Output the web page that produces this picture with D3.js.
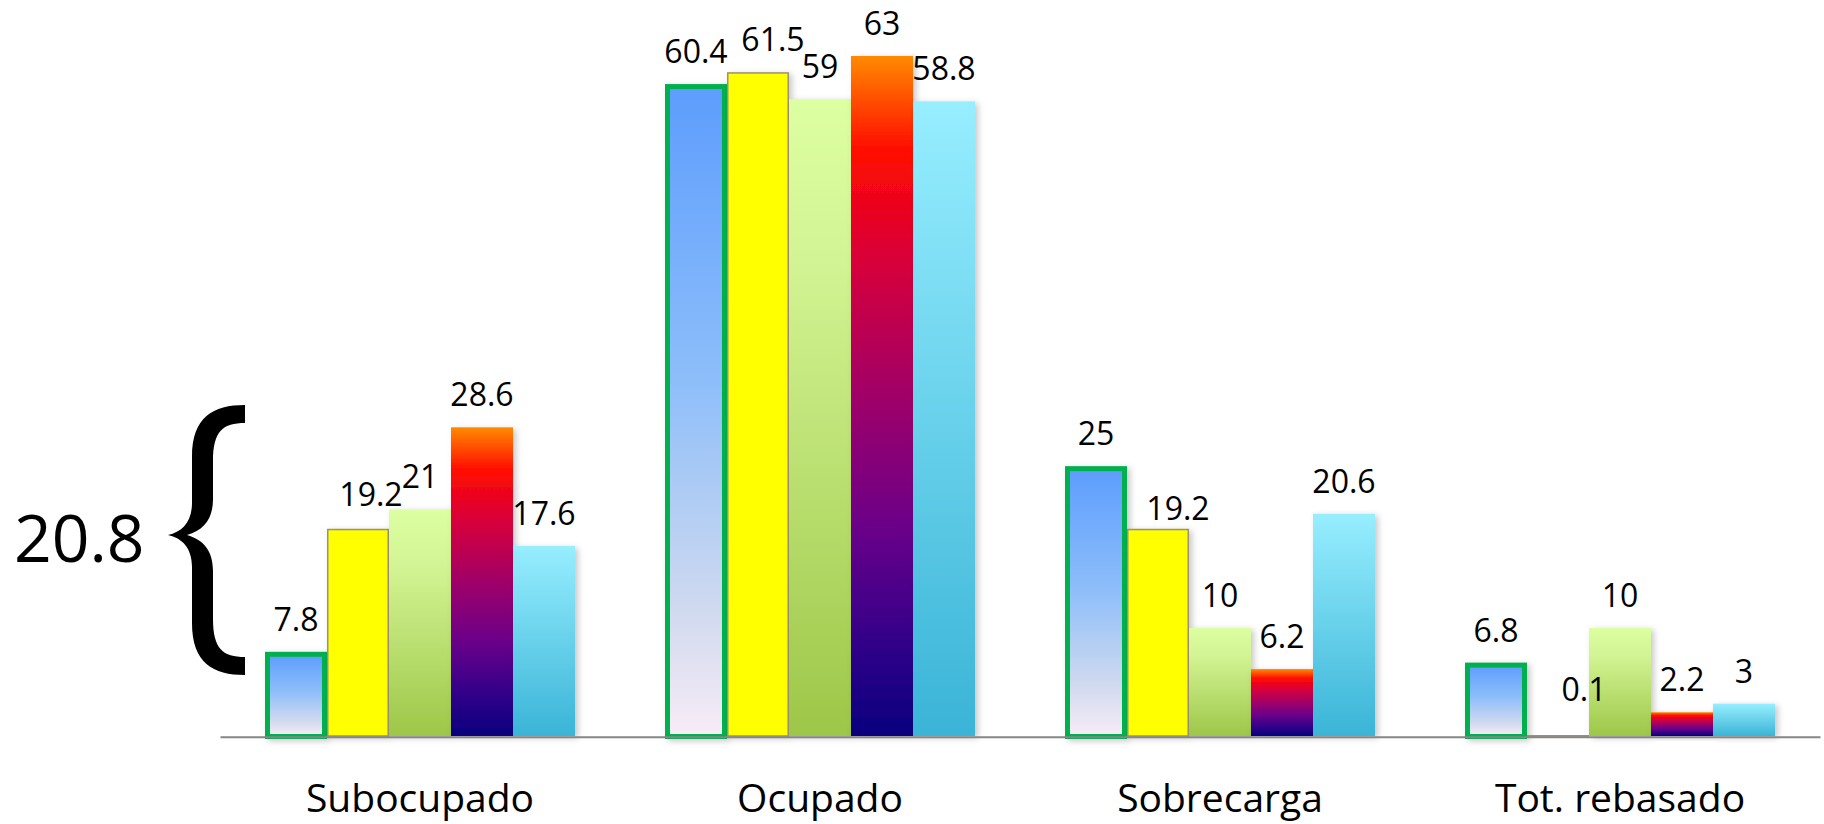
<!DOCTYPE html>
<html>
<head>
<meta charset="utf-8">
<script src="https://cdn.jsdelivr.net/npm/d3@7"></script>
<style>
  html, body { margin: 0; padding: 0; background: #ffffff; }
  svg { display: block; }
</style>
</head>
<body>
<script>
// Categories along the x axis
const categories = ["Subocupado", "Ocupado", "Sobrecarga", "Tot. rebasado"];

// One array per series, in category order
const serieA = [7.8, 60.4, 25, 6.8];
const serieB = [19.2, 61.5, 19.2, 0.1];
const serieC = [21, 59, 10, 10];
const serieD = [28.6, 63, 6.2, 2.2];
const serieE = [17.6, 58.8, 20.6, 3];

const seriesKeys = ["A", "B", "C", "D", "E"];
const seriesValues = [serieA, serieB, serieC, serieD, serieE];

// Side annotation
const braceLabel = "20.8";

// Nudges for the labels of series B, which sit off-centre
const labelNudgeB = [[13, -2], [15, 0], [20, 12], [26, -13]];

const W = 1824, H = 824;
const FONT = "'Open Sans', 'Noto Sans', sans-serif";

const svg = d3.select("body").append("svg")
  .attr("width", W).attr("height", H);

const defs = svg.append("defs");

function gradient(id, stops) {
  const g = defs.append("linearGradient").attr("id", id)
    .attr("x1", 0).attr("y1", 0).attr("x2", 0).attr("y2", 1);
  stops.forEach(([o, c]) => g.append("stop").attr("offset", o).attr("stop-color", c));
}
gradient("gA", [[0, "#5d9dfd"], [0.45, "#8dbefa"], [0.8, "#cfd9ef"], [1, "#f8ecf6"]]);
gradient("gC", [[0, "#dcffa1"], [0.25, "#d3f494"], [1, "#9dc748"]]);
gradient("gD", [[0, "#ff8a00"], [0.14, "#ff0a00"], [0.3, "#d8003a"], [0.5, "#a00068"],
                [0.7, "#68008a"], [0.88, "#2c0088"], [1, "#0a007e"]]);
gradient("gE", [[0, "#97eeff"], [1, "#3ab4d7"]]);

const shadow = defs.append("filter").attr("id", "shadow")
  .attr("x", "-20%").attr("y", "-20%").attr("width", "140%").attr("height", "140%");
shadow.append("feDropShadow")
  .attr("dx", 3).attr("dy", 2).attr("stdDeviation", 3)
  .attr("flood-color", "#000").attr("flood-opacity", 0.22);

const fills = { A: "url(#gA)", B: "#ffff00", C: "url(#gC)", D: "url(#gD)", E: "url(#gE)" };

// Scales
const x0 = d3.scaleBand().domain(categories).range([220, 1820])
  .paddingInner(0.225).paddingOuter(0.1125);
const x1 = d3.scaleBand().domain(seriesKeys).range([0, x0.bandwidth()]);
const y = d3.scaleLinear().domain([0, 63]).range([736, 56]);
const bw = x1.bandwidth();

// Bars
const rows = categories.map((c, i) => ({
  cat: c, i,
  items: seriesKeys.map((k, s) => ({ key: k, value: seriesValues[s][i], i }))
}));

const groups = svg.append("g").selectAll("g.cat")
  .data(rows).join("g")
  .attr("class", "cat")
  .attr("transform", d => `translate(${x0(d.cat)},0)`);

groups.selectAll("rect")
  .data(d => d.items).join("rect")
  .attr("filter", "url(#shadow)")
  .attr("fill", d => fills[d.key])
  .each(function (d) {
    const r = d3.select(this);
    const top = y(d.value), base = y(0);
    if (d.key === "A") {
      r.attr("x", x1(d.key) + 2.5).attr("width", bw - 5)
        .attr("y", top + 2.5).attr("height", base + 0.5 - top - 2.5)
        .attr("stroke", "#00b050").attr("stroke-width", 5);
    } else if (d.key === "B") {
      r.attr("x", x1(d.key) + 0.75).attr("width", bw - 1.5)
        .attr("y", top + 0.75).attr("height", Math.max(base - top - 0.75, 0.5))
        .attr("stroke", "#9c9272").attr("stroke-width", 1.5);
    } else {
      r.attr("x", x1(d.key)).attr("width", bw)
        .attr("y", top).attr("height", base - top);
    }
  });

// Value labels
groups.selectAll("text.val")
  .data(d => d.items).join("text")
  .attr("class", "val")
  .attr("text-anchor", "middle")
  .attr("font-family", FONT)
  .attr("font-size", 32)
  .attr("fill", "#000")
  .attr("x", d => x1(d.key) + bw / 2 + (d.key === "B" ? labelNudgeB[d.i][0] : 0))
  .attr("y", d => y(d.value) - 21 + (d.key === "B" ? labelNudgeB[d.i][1] : 0))
  .text(d => d.value);

// Category axis
const axis = svg.append("g")
  .attr("transform", `translate(0,${y(0) + 0.7})`)
  .call(d3.axisBottom(x0).tickSize(0).tickSizeOuter(0));
axis.select(".domain").attr("stroke", "#868686").attr("stroke-width", 2);
axis.selectAll(".tick text")
  .attr("font-family", FONT)
  .attr("font-size", 39)
  .attr("fill", "#000")
  .attr("dy", null)
  .attr("y", 75);

// Brace annotation on the left
const brace = svg.append("g").attr("transform", "translate(168,405)");
brace.append("path")
  .attr("fill", "#000")
  .attr("d", [
    "M 77 0",
    "C 45 0, 24 12, 24 52",
    "L 24 98",
    "C 24 117, 14 127, 0 130",
    "C 14 133, 24 143, 24 162",
    "L 24 218",
    "C 24 258, 45 270, 77 270",
    "L 77 252",
    "C 55 252, 45 244, 45 214",
    "L 45 166",
    "C 45 146, 36 135, 19 130",
    "C 36 125, 45 114, 45 94",
    "L 45 56",
    "C 45 26, 55 18, 77 18",
    "Z"
  ].join(" "));

svg.append("text")
  .attr("x", 14).attr("y", 562)
  .attr("font-family", FONT)
  .attr("font-size", 66)
  .attr("fill", "#000")
  .text(braceLabel);
</script>
</body>
</html>
